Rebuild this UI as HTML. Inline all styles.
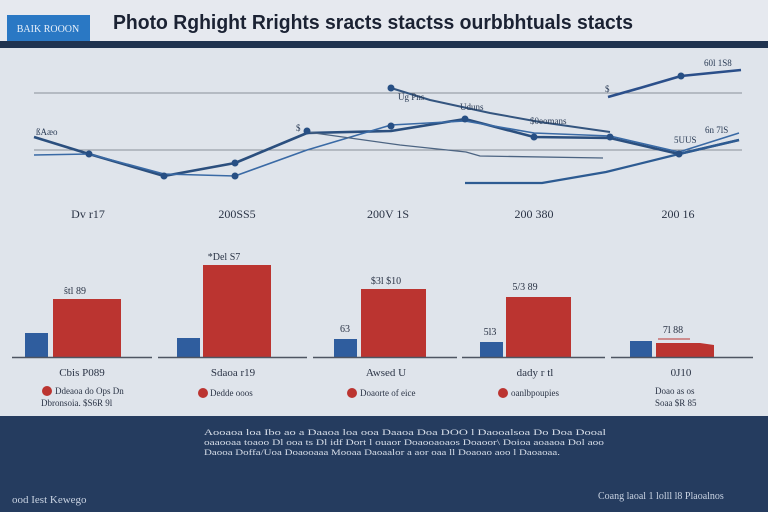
<!DOCTYPE html>
<html><head><meta charset="utf-8"><style>
html,body{margin:0;padding:0;width:768px;height:512px;overflow:hidden;}
body{background:linear-gradient(180deg,#e3e7ee 0%,#dfe4eb 40%,#dde2ea 80%);font-family:"Liberation Sans",sans-serif;}
svg{display:block}
</style></head><body>
<svg width="768" height="512" viewBox="0 0 768 512" xmlns="http://www.w3.org/2000/svg" font-family="Liberation Sans, sans-serif">
<rect x="0" y="0" width="768" height="512" fill="#dfe4eb"/>
<rect x="0" y="0" width="768" height="41" fill="#e6e9ef"/>
<rect x="7" y="15" width="83" height="26" fill="#2a78c4"/>
<text x="48" y="32" font-size="10" fill="#e8f0fa" text-anchor="middle" font-family="Liberation Serif, serif">BAIK ROOON</text>
<text x="113" y="29" font-size="20" font-weight="bold" fill="#1b2233" textLength="520" lengthAdjust="spacingAndGlyphs">Photo Rghight  Rrights sracts stactss ourbbhtuals stacts</text>
<rect x="0" y="41" width="768" height="7" fill="#1f3350"/>
<!-- grid lines -->
<line x1="34" y1="93" x2="742" y2="93" stroke="#8a8f98" stroke-width="1"/>
<line x1="34" y1="150" x2="742" y2="150" stroke="#8a8f98" stroke-width="1"/>
<g fill="none" stroke-linejoin="round">
<polyline points="34,137 89,154 164,176 235,163 307,133 391,131 465,119 534,137 610,138 679,154 739,140" stroke="#2b4f7e" stroke-width="2.6"/>
<polyline points="34,155 89,154 164,174 235,176 307,150 391,125 465,121 534,133 610,136 679,152 739,133" stroke="#3a6aa5" stroke-width="1.6"/>
<polyline points="391,88 430,100 490,113 540,122 610,132" stroke="#34557f" stroke-width="2"/>
<polyline points="307,132 400,145 466,152 480,156 603,158" stroke="#4c6482" stroke-width="1.3"/>
<polyline points="608,97 640,88 681,76 741,70" stroke="#2b4f8a" stroke-width="2.6"/>
<polyline points="465,183 542,183 606,172 679,154 739,140" stroke="#2d5b92" stroke-width="2.2"/>
</g>
<g fill="#274f84">
<circle cx="89" cy="154" r="3.5"/><circle cx="164" cy="176" r="3.5"/><circle cx="235" cy="163" r="3.5"/><circle cx="235" cy="176" r="3.5"/><circle cx="307" cy="131" r="3.5"/><circle cx="391" cy="126" r="3.5"/><circle cx="391" cy="88" r="3.5"/><circle cx="465" cy="119" r="3.5"/><circle cx="534" cy="137" r="3.5"/><circle cx="610" cy="137" r="3.5"/><circle cx="679" cy="154" r="3.5"/><circle cx="681" cy="76" r="3.5"/>
</g>
<g font-size="9" fill="#2a3b55" font-family="Liberation Serif, serif">
<text x="36" y="135">ßAæo</text><text x="296" y="131">$</text><text x="398" y="100">Ug Pns</text><text x="460" y="110">Uduns</text><text x="530" y="124">$0eomans</text><text x="704" y="66">60l 1S8</text><text x="605" y="92">$</text><text x="705" y="133">6n 7lS</text><text x="674" y="143">5UUS</text>
</g>
<g font-size="12" fill="#2a3345" text-anchor="middle" font-family="Liberation Serif, serif">
<text x="88" y="218">Dv r17</text><text x="237" y="218">200SS5</text><text x="388" y="218">200V 1S</text><text x="534" y="218">200 380</text><text x="678" y="218">200 16</text>
</g>
<!-- bars -->
<g fill="#2f5d9e">
<rect x="25" y="333" width="23" height="24"/><rect x="177" y="338" width="23" height="19"/><rect x="334" y="339" width="23" height="18"/><rect x="480" y="342" width="23" height="15"/><rect x="630" y="341" width="22" height="16"/>
</g>
<g fill="#bb3430">
<rect x="53" y="299" width="68" height="58"/><rect x="203" y="265" width="68" height="92"/><rect x="361" y="289" width="65" height="68"/><rect x="506" y="297" width="65" height="60"/><polygon points="656,343 700,343 714,345 714,357 656,357"/>
</g>
<g stroke="#4e5562" stroke-width="1.5">
<line x1="12" y1="357.5" x2="152" y2="357.5"/><line x1="158" y1="357.5" x2="307" y2="357.5"/><line x1="313" y1="357.5" x2="457" y2="357.5"/><line x1="462" y1="357.5" x2="605" y2="357.5"/><line x1="611" y1="357.5" x2="753" y2="357.5"/>
</g>
<line x1="658" y1="339" x2="690" y2="339" stroke="#bb3430" stroke-width="1"/>
<g font-size="10" fill="#2a3345" text-anchor="middle" font-family="Liberation Serif, serif">
<text x="75" y="294">ŝtl 89</text><text x="224" y="260">*Del S7</text><text x="386" y="284">$3l $10</text><text x="525" y="290">5/3 89</text><text x="345" y="332">63</text><text x="490" y="335">5l3</text><text x="673" y="333">7l 88</text>
</g>
<g font-size="11" fill="#2a3345" text-anchor="middle" font-family="Liberation Serif, serif">
<text x="82" y="376">Cbis P089</text><text x="233" y="376">Sdaoa r19</text><text x="386" y="376">Awsed U</text><text x="535" y="376">dady r tl</text><text x="681" y="376">0J10</text>
</g>
<g fill="#bb3430"><circle cx="47" cy="391" r="5"/><circle cx="203" cy="393" r="5"/><circle cx="352" cy="393" r="5"/><circle cx="503" cy="393" r="5"/></g>
<g font-size="9" fill="#2a3345" font-family="Liberation Serif, serif">
<text x="55" y="394">Ddeaoa do Ops Dn</text><text x="41" y="406">Dbronsoia. $S6R 9l</text><text x="210" y="396">Dedde ooos</text><text x="360" y="396">Doaorte of eice</text><text x="511" y="396">oanlbpoupies</text><text x="655" y="394">Doao as os</text><text x="655" y="406">Soaa $R 85</text>
</g>
<!-- footer -->
<rect x="0" y="416" width="768" height="96" fill="#253c5f"/>
<g font-size="8.5" fill="#d6dde8" font-family="Liberation Serif, serif">
<text x="204" y="435" textLength="402" lengthAdjust="spacingAndGlyphs">Aooaoa loa Ibo ao a   Daaoa loa ooa Daaoa Doa DOO l Daooalsoa Do Doa Dooal</text>
<text x="204" y="445" textLength="400" lengthAdjust="spacingAndGlyphs">oaaooaa toaoo  Dl ooa ts Dl idf Dort  l ouaor Doaooaoaos Doaoor\ Doioa  aoaaoa Dol aoo</text>
<text x="204" y="455" textLength="356" lengthAdjust="spacingAndGlyphs">Daooa Doffa/Uoa  Doaooaaa  Mooaa  Daoaalor a aor oaa  ll Doaoao aoo l Daoaoaa.</text>
</g>
<text x="12" y="503" font-size="11" fill="#c9d3e2" font-family="Liberation Serif, serif">ood Iest Kewego</text>
<text x="598" y="499" font-size="10" fill="#c9d3e2" font-family="Liberation Serif, serif">Coang laoal  1 lolll  l8  Plaoalnos</text>
</svg>
</body></html>
